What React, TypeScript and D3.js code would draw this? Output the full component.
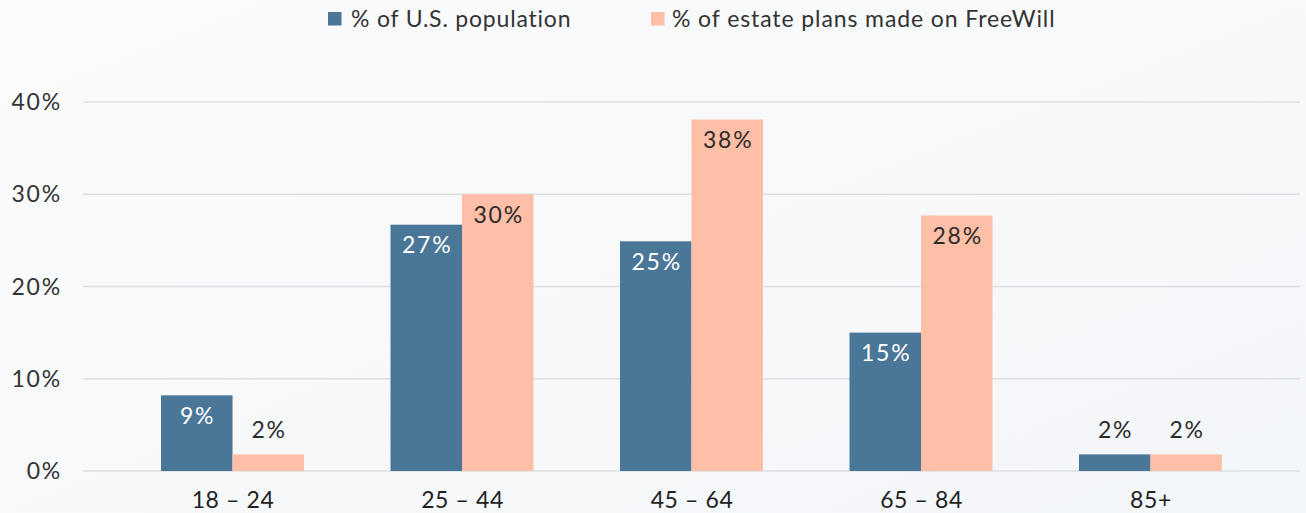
import React from "react";
import * as d3 from "d3";

const categories = ["18 – 24", "25 – 44", "45 – 64", "65 – 84", "85+"];
const populationValues = [8.2, 26.7, 24.9, 15.0, 1.8];
const freewillValues = [1.8, 30.0, 38.1, 27.7, 1.8];
const populationLabels = ["9%", "27%", "25%", "15%", "2%"];
const freewillLabels = ["2%", "30%", "38%", "28%", "2%"];
const yTicks = [0, 10, 20, 30, 40];
const seriesNames = ["% of U.S. population", "% of estate plans made on FreeWill"];
const seriesColors = ["#4a7698", "#ffbea6"];

const W = 1306;
const H = 513;
const FONT = "Lato, 'Open Sans', sans-serif";

export default function App() {
  const x = d3.scaleBand<string>().domain(categories).range([83, 1300]).paddingInner(0.377).paddingOuter(0.34);
  const y = d3.scaleLinear().domain([0, 40]).range([471, 102]);
  const bw = x.bandwidth() / 2;
  const series = [
    { values: populationValues, labels: populationLabels, color: seriesColors[0], text: "#ffffff" },
    { values: freewillValues, labels: freewillLabels, color: seriesColors[1], text: "#2b2b2b" },
  ];
  return (
    <svg width={W} height={H} style={{ position: "absolute", left: 0, top: 0, fontFamily: FONT }}>
      <defs>
        <linearGradient id="bg" x1="0" y1="0" x2="1" y2="1">
          <stop offset="0" stopColor="#fbfbfc" />
          <stop offset="1" stopColor="#f3f6f9" />
        </linearGradient>
      </defs>
      <rect x={0} y={0} width={W} height={H} fill="url(#bg)" />
      {yTicks.map((t) => (
        <g key={t}>
          <line x1={83} x2={1300} y1={y(t)} y2={y(t)} stroke="#dcdfe3" strokeWidth={1.3} />
          <text x={62} y={y(t)} dy="0.35em" textAnchor="end" fontSize={23} letterSpacing={1.8} fill="#333">
            {t}%
          </text>
        </g>
      ))}
      {series.map((s, si) =>
        categories.map((c, i) => {
          const x0 = (x(c) as number) + si * bw;
          const top = y(s.values[i]);
          const inside = s.values[i] > 5;
          return (
            <g key={c + si}>
              <rect x={x0} y={top} width={bw} height={y(0) - top} fill={s.color} />
              <text
                x={x0 + bw / 2 + 0.9}
                y={inside ? top + 28.5 : top - 16}
                textAnchor="middle"
                fontSize={23}
                letterSpacing={1.8}
                fill={inside ? s.text : "#2b2b2b"}
              >
                {s.labels[i]}
              </text>
            </g>
          );
        })
      )}
      {categories.map((c) => (
        <text key={c} x={(x(c) as number) + x.bandwidth() / 2 + 0.5} y={507.5} textAnchor="middle" fontSize={23} letterSpacing={0.6} fill="#222">
          {c}
        </text>
      ))}
      <g>
        <rect x={328} y={12} width={13.5} height={13.5} fill={seriesColors[0]} />
        <text x={351} y={26.7} fontSize={23} letterSpacing={0.8} fill="#333">{seriesNames[0]}</text>
        <rect x={651} y={12} width={13.5} height={13.5} fill={seriesColors[1]} />
        <text x={672} y={26.7} fontSize={23} letterSpacing={0.9} fill="#333">{seriesNames[1]}</text>
      </g>
    </svg>
  );
}
